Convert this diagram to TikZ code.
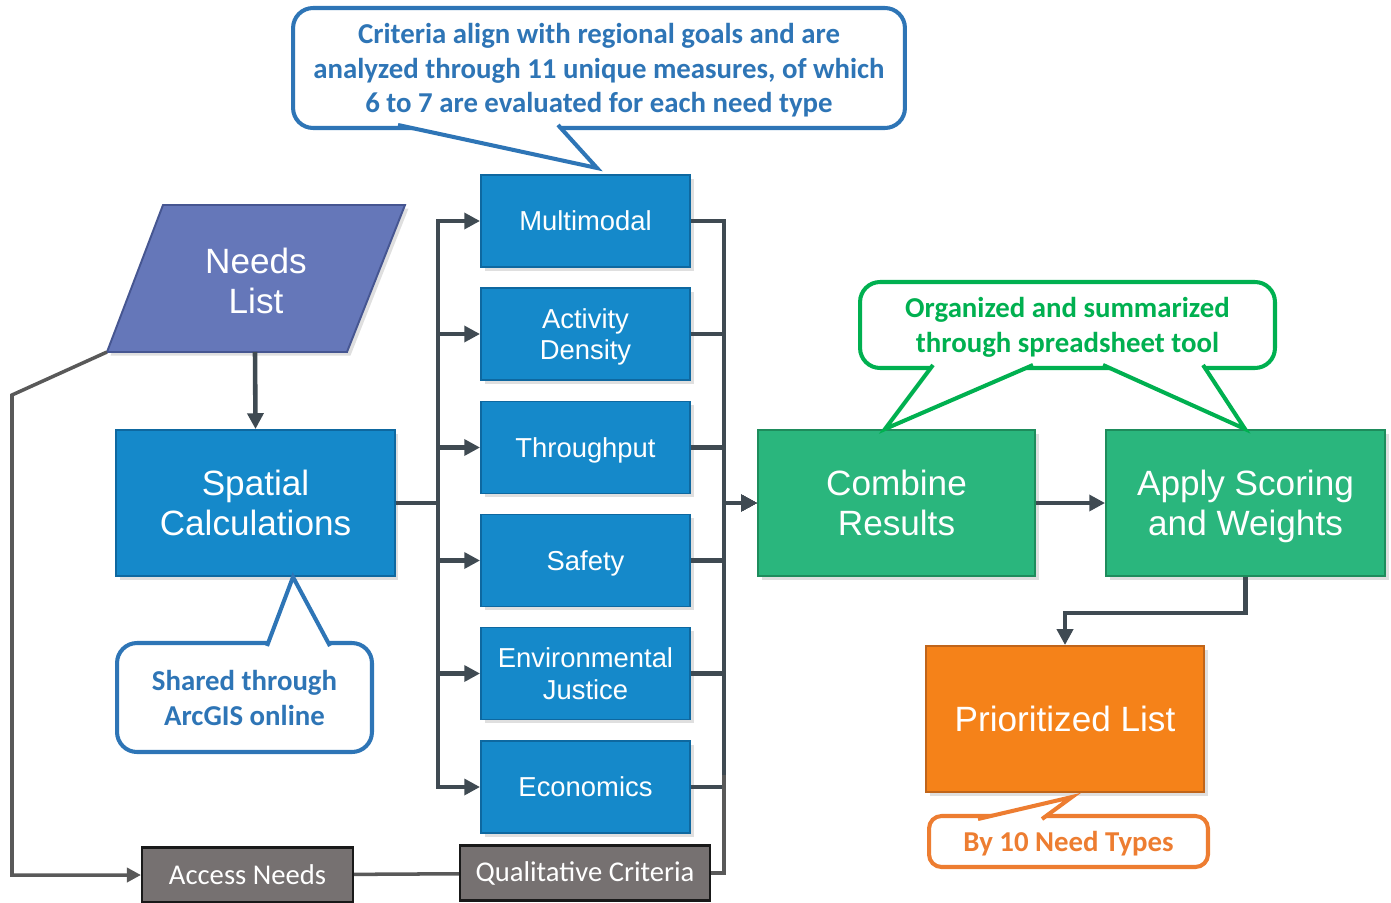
\documentclass[tikz,border=0pt]{standalone}
\usepackage{fontspec}
\setmainfont{Liberation Sans}
\newfontfamily\notefont{Carlito}
\usepackage{tikz}
\usetikzlibrary{arrows.meta,positioning,shadows}
\definecolor{boxblue}{RGB}{21,137,202}
\definecolor{boxblueline}{RGB}{14,104,160}
\definecolor{listblue}{RGB}{101,119,185}
\definecolor{listblueline}{RGB}{70,86,145}
\definecolor{boxgreen}{RGB}{42,182,125}
\definecolor{boxgreenline}{RGB}{30,140,92}
\definecolor{boxorange}{RGB}{245,130,25}
\definecolor{boxorangeline}{RGB}{192,101,26}
\definecolor{boxgray}{RGB}{118,113,113}
\definecolor{linedark}{RGB}{63,74,82}
\definecolor{linegray}{RGB}{89,89,89}
\definecolor{noteblue}{RGB}{46,117,182}
\definecolor{notegreen}{RGB}{0,176,80}
\definecolor{noteorange}{RGB}{237,125,49}

\begin{document}
\begin{tikzpicture}[x=0.02cm, y=-0.02cm,
    softshadow/.style={drop shadow={shadow xshift=2pt, shadow yshift=-2pt, opacity=0.25}},
    bigbox/.style={line width=1.1pt, text=white, align=center, softshadow, text depth=0pt,
      minimum width=5.58cm, minimum height=2.92cm, font=\fontsize{20}{22.7}\selectfont},
    critbox/.style={draw=boxblueline, fill=boxblue, line width=1.1pt, text=white, align=center,
      softshadow, text depth=0pt, minimum width=4.18cm, minimum height=1.84cm,
      font=\fontsize{15.6}{18}\selectfont},
    graybox/.style={draw=black!90, fill=boxgray, line width=1.2pt, text=white,
      minimum height=1.1cm, font=\notefont\fontsize{16.3}{19}\selectfont},
    note/.style={draw=#1, text=#1, fill=white, line width=2.3pt, rounded corners=0.4cm,
      align=center, text depth=0pt, font=\notefont\bfseries\fontsize{16.4}{19.8}\selectfont},
    pointer/.style={draw=#1, fill=white, line width=2.3pt},
    conn/.style={draw=linedark, line width=2.6pt, -{Triangle[length=9pt, width=9pt]}},
    grayconn/.style={draw=linegray, line width=2pt}
  ]
  \useasboundingbox (0,0) rectangle (1391,902);

  % Needs list
  \draw[draw=listblueline, fill=listblue, line width=1.1pt, softshadow]
    (107,352) -- (163,205) -- (405,205) -- (347,352) -- cycle;
  \node[text=white, align=center, font=\fontsize{20}{22.7}\selectfont] (needs) at (256,281) {Needs\\List};
  \coordinate (needsb) at (255,352);
  \coordinate (needsbl) at (107,352);

  % Process boxes
  \node[bigbox, draw=boxblueline, fill=boxblue] (spatial) at (255.5,503) {Spatial\\Calculations};
  \foreach \name/\txt/\y in {multimodal/Multimodal/221, activity/{Activity\\Density}/334,
      throughput/Throughput/447.5, safety/Safety/560.5,
      envjustice/{Environmental\\Justice}/673.5, economics/Economics/787}
    \node[critbox] (\name) at (585.5,\y) {\txt};
  \node[bigbox, draw=boxgreenline, fill=boxgreen, minimum width=5.54cm] (combine) at (896.5,503) {Combine\\Results};
  \node[bigbox, draw=boxgreenline, fill=boxgreen] (scoring) at (1245.5,503) {Apply Scoring\\and Weights};
  \node[bigbox, draw=boxorangeline, fill=boxorange, minimum width=5.56cm] (prioritized) at (1065,719) {Prioritized List};
  \node[graybox, minimum width=4.22cm] (access) at (247.5,875) {Access Needs};
  \node[graybox, minimum width=5cm] (qualitative) at (585,873) {Qualitative Criteria};

  % Connectors
  \draw[conn] (needsb) -- (spatial.north);
  \foreach \name in {multimodal,activity,throughput,safety,envjustice,economics}{
    \draw[conn] (spatial.east) -- ++(42,0) |- (\name.west);
    \draw[conn] (\name.east) -- ++(33,0) |- (combine.west);
  }
  \draw[conn] (combine) -- (scoring);
  \draw[conn] (scoring.south) -- ++(0,36) -| (prioritized.north);
  \draw[grayconn, -{Triangle[length=8pt, width=8pt]}] (needsbl) -- (12,395) |- (access.west);
  \draw[grayconn] (access) -- (qualitative);
  \draw[grayconn] (qualitative.east) -- ++(13,0) -- ++(0,-98);

  % Callouts
  \node[note=noteblue, minimum width=12.24cm, minimum height=2.4cm] (critnote) at (599,68)
    {Criteria align with regional goals and are\\analyzed through 11 unique measures, of which\\6 to 7 are evaluated for each need type};
  \filldraw[pointer=noteblue] (398,125) -- (597,168) -- (558,125);
  \node[note=noteblue, minimum width=5.1cm, minimum height=2.18cm] (sharednote) at (244.5,697.5)
    {Shared through\\ArcGIS online};
  \filldraw[pointer=noteblue] (267,646) -- (293,577) -- (330,646);
  \node[note=notegreen, minimum width=8.3cm, minimum height=1.72cm] (summarynote) at (1067.5,325)
    {Organized and summarized\\through spreadsheet tool};
  \filldraw[pointer=notegreen] (933,365) -- (885,429) -- (1033,365);
  \filldraw[pointer=notegreen] (1103,365) -- (1245,429) -- (1203,365);
  \node[note=noteorange, rounded corners=0.25cm, minimum width=5.58cm, minimum height=1.02cm] (typenote) at (1068.5,841.5)
    {By 10 Need Types};
  \filldraw[pointer=noteorange] (978,819) -- (1072,797) -- (1042,819);
\end{tikzpicture}
\end{document}
